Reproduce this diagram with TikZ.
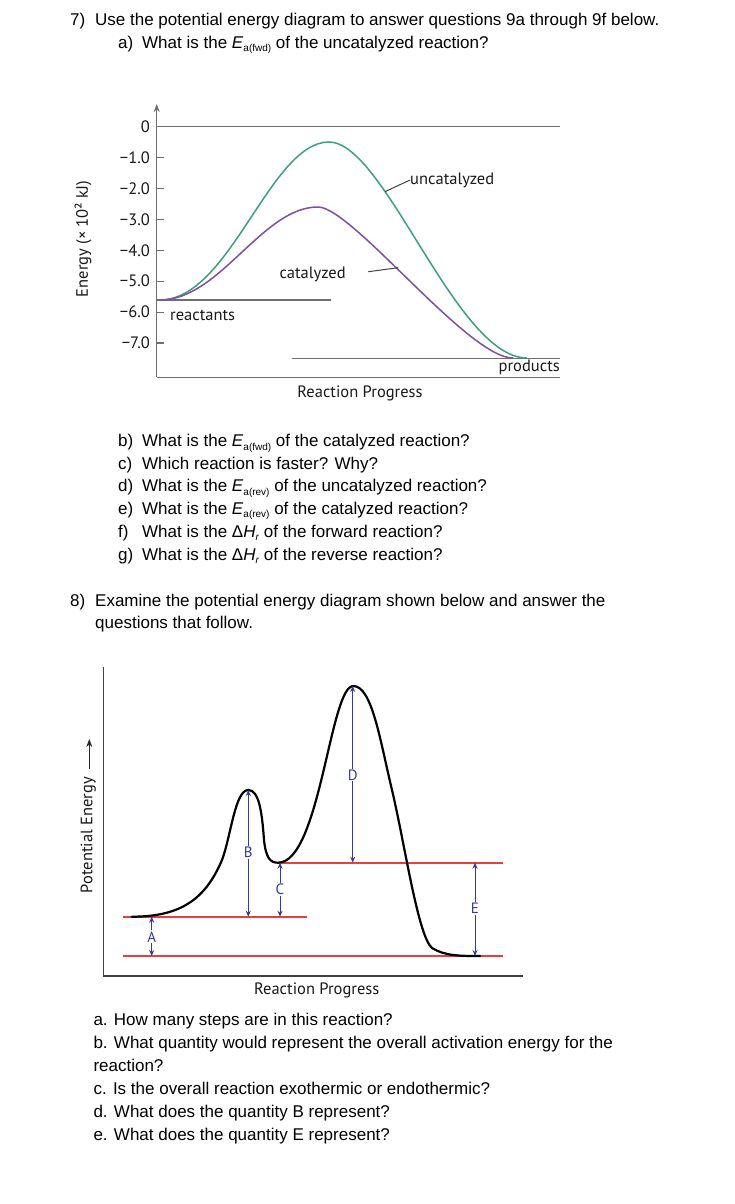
\documentclass[tikz,border=0pt]{standalone}
\usepackage{fontspec}
\setmainfont{Liberation Sans}
\newfontfamily\dfont{PT Sans}
\usetikzlibrary{arrows.meta}
\newcommand\Eaa[1]{\textit{E}\raisebox{-3.5pt}{\fontsize{10}{10}\selectfont a(#1)}}
\newcommand\dHr{Δ\textit{H}\raisebox{-3pt}{\fontsize{10}{10}\selectfont\textit{r}}}
\definecolor{cgreen}{RGB}{58,163,122}
\definecolor{cpurple}{RGB}{128,78,162}
\definecolor{cred}{RGB}{232,62,60}
\definecolor{cblue}{RGB}{55,55,160}
\definecolor{cgray}{RGB}{110,110,110}
\begin{document}
\begin{tikzpicture}[x=1pt,y=-1pt,
  q/.style={anchor=base west,inner sep=0pt,font=\fontsize{17}{20}\selectfont},
  dl/.style={inner sep=0pt,font=\dfont\fontsize{16.5}{18}\selectfont,text=black!90},
  ax/.style={draw=cgray,line width=1.1pt},
  lax/.style={draw=black!75,line width=1.1pt},
  gcurve/.style={draw=cgreen,line width=1.5pt},
  pcurve/.style={draw=cpurple,line width=1.5pt},
  redline/.style={draw=cred,line width=2pt},
  barr/.style={draw=cblue,line width=1pt,{Stealth[length=6pt,width=5pt]}-{Stealth[length=6pt,width=5pt]}},
  blbl/.style={fill=white,inner sep=1pt,font=\dfont\fontsize{15}{17}\selectfont,text=cblue},
  leader/.style={draw=black!75,line width=1pt}
]
\useasboundingbox[fill=white] (0,0) rectangle (734,1204);

% ---------- question 7 text ----------
\node[q] (t7) at (70,25.7) {\makebox[25pt][l]{7)}Use the potential energy diagram to answer questions 9a through 9f below.};
\node[q] (t7a) at (118,48.3) {\makebox[24pt][l]{a)}What is the \Eaa{fwd} of the uncatalyzed reaction?};

% ---------- top diagram ----------
\coordinate (yb) at (156.7,377.3);
\coordinate (yt) at (156.7,104);
\coordinate (xr) at (560,377.3);
\draw[ax,-{Stealth[length=8pt,width=6pt]}] (yb) -- (yt);
\draw[ax] (yb) -- (xr);
\coordinate (z0) at (156.7,126.7);
\coordinate (z1) at (560,126.7);
\draw[ax] (z0) -- (z1);
\foreach \i in {1,...,7}{
  \draw[ax] (156.7,126.7+30.9*\i) -- ++(7.3,0);
}
\node[dl,anchor=east] (tk0) at (150,126.7) {0};
\node[dl,anchor=east] (tk1) at (150,157.6) {−1.0};
\node[dl,anchor=east] (tk2) at (150,188.5) {−2.0};
\node[dl,anchor=east] (tk3) at (150,219.4) {−3.0};
\node[dl,anchor=east] (tk4) at (150,250.3) {−4.0};
\node[dl,anchor=east] (tk5) at (150,281.2) {−5.0};
\node[dl,anchor=east] (tk6) at (150,312.1) {−6.0};
\node[dl,anchor=east] (tk7) at (150,343.0) {−7.0};
\node[dl,rotate=90] (elab) at (83,239) {Energy (× 10² kJ)};

\coordinate (r0) at (156.7,300);
\coordinate (r1) at (330.7,300);
\draw[ax] (r0) -- (r1);
\coordinate (p0) at (291.7,358.3);
\coordinate (p1) at (560,358.3);
\draw[ax] (p0) -- (p1);

\draw[gcurve] (160,300) .. controls (230,300) and (270,142) .. (329,142)
   .. controls (385,142) and (456,358) .. (527,358);
\draw[pcurve] (160,300) .. controls (220,300) and (262,207) .. (318,207)
   .. controls (352,207) and (468,358) .. (513,358);

\node[dl,anchor=west] (reac) at (170,315) {reactants};
\node[dl,anchor=east] (prod) at (560,367) {products};
\node[dl,anchor=west] (unc) at (410,180) {uncatalyzed};
\node[dl,anchor=west] (cat) at (279.3,274) {catalyzed};
\node[dl] (rp1) at (360,393) {Reaction Progress};
\coordinate (uncpt) at (385,191.7);
\coordinate (catpt) at (398.3,267.7);
\coordinate (catl) at (368.3,271.7);
\draw[leader] (uncpt) -- (unc.west);
\draw[leader] (catl) -- (catpt);

% ---------- questions b-g ----------
\node[q] (t7b) at (118,446.7) {\makebox[24pt][l]{b)}What is the \Eaa{fwd} of the catalyzed reaction?};
\node[q] (t7c) at (118,469.3) {\makebox[24pt][l]{c)}Which reaction is faster? Why?};
\node[q] (t7d) at (118,491.7) {\makebox[24pt][l]{d)}What is the \Eaa{rev} of the uncatalyzed reaction?};
\node[q] (t7e) at (118,514.3) {\makebox[24pt][l]{e)}What is the \Eaa{rev} of the catalyzed reaction?};
\node[q] (t7f) at (118,537.7) {\makebox[24pt][l]{f)}What is the \dHr{} of the forward reaction?};
\node[q] (t7g) at (118,560) {\makebox[24pt][l]{g)}What is the \dHr{} of the reverse reaction?};

% ---------- question 8 ----------
\node[q] (t8) at (70,606.7) {\makebox[25pt][l]{8)}Examine the potential energy diagram shown below and answer the};
\node[q] (t8b) at (95,628.3) {questions that follow.};

% ---------- lower diagram ----------
\coordinate (lyt) at (103.3,666.7);
\coordinate (lo) at (103.3,976);
\coordinate (lxr) at (523.3,976);
\draw[lax] (lyt) -- (lo) -- (lxr);
\node[dl,rotate=90,anchor=west] (pe) at (88.3,893.3) {Potential Energy};
\coordinate (peb) at (89.3,769);
\coordinate (pearr) at (89.3,739);
\draw[draw=black!85,line width=1pt,-{Stealth[length=8pt,width=6pt]}] (peb) -- (pearr);
\node[dl] (rp2) at (316.7,990) {Reaction Progress};

\coordinate (l1a) at (123.3,916.7); \coordinate (l1b) at (306.7,916.7);
\coordinate (l2a) at (123.3,956);   \coordinate (l2b) at (503.3,956);
\coordinate (l3a) at (278.3,862.7); \coordinate (l3b) at (503.3,862.7);
\draw[redline] (l1a) -- (l1b);
\draw[redline] (l2a) -- (l2b);
\draw[redline] (l3a) -- (l3b);

\draw[black,line width=2.2pt,line join=round,line cap=round]
  (131.7,916.7) .. controls (180,916.7) and (205,900) .. (222,860)
  .. controls (231,836) and (235,790) .. (248.3,790)
  .. controls (259,790) and (262,812) .. (264,840)
  .. controls (266,858) and (270,862.7) .. (278,862.7)
  .. controls (320,862.7) and (330,686) .. (353.3,686)
  .. controls (372,686) and (380,740) .. (392,790)
  .. controls (405,845) and (418,936) .. (432,948)
  .. controls (445,956) and (460,956) .. (480,956);

\coordinate (A1) at (151.7,916.7); \coordinate (A2) at (151.7,956);
\coordinate (B1) at (248.3,790);   \coordinate (B2) at (248.3,916.7);
\coordinate (C1) at (280,862.7);   \coordinate (C2) at (280,916.7);
\coordinate (D1) at (352.7,686);   \coordinate (D2) at (352.7,862.7);
\coordinate (E1) at (475,862.7);   \coordinate (E2) at (475,956);
\draw[barr] (A1) -- (A2);
\draw[barr] (B1) -- (B2);
\draw[barr] (C1) -- (C2);
\draw[barr] (D1) -- (D2);
\draw[barr] (E1) -- (E2);
\node[blbl] (lA) at (151.7,936.7) {A};
\node[blbl] (lB) at (248.3,852.7) {B};
\node[blbl] (lC) at (280,889.3) {C};
\node[blbl] (lD) at (352.7,775) {D};
\node[blbl] (lE) at (475,908.3) {E};

% ---------- lower questions ----------
\node[q] (s1) at (93.3,1025.7) {a. How many steps are in this reaction?};
\node[q] (s2) at (93.3,1048.6) {b. What quantity would represent the overall activation energy for the};
\node[q] (s3) at (93.3,1071.5) {reaction?};
\node[q] (s4) at (93.3,1094.4) {c. Is the overall reaction exothermic or endothermic?};
\node[q] (s5) at (93.3,1117.3) {d. What does the quantity B represent?};
\node[q] (s6) at (93.3,1140.2) {e. What does the quantity E represent?};
\end{tikzpicture}
\end{document}
